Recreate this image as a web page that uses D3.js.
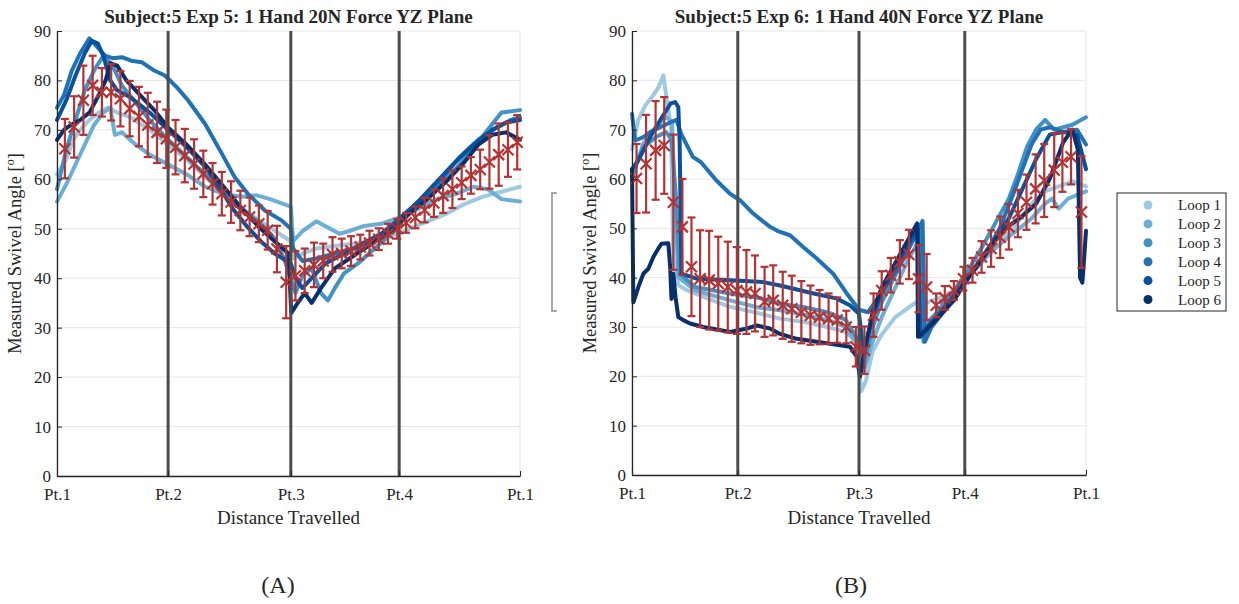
<!DOCTYPE html>
<html>
<head>
<meta charset="utf-8">
<script src="https://cdn.jsdelivr.net/npm/d3@7"></script>
<style>
body { margin: 0; background: #fff; }
text { font-family: "Liberation Serif", "Times New Roman", serif; fill: #262626; }
</style>
</head>
<body>
<div id="chart"></div>
<script>
// ---- data (x = % of distance travelled, y = swivel angle in degrees) ----
var loopNames = ["Loop 1", "Loop 2", "Loop 3", "Loop 4", "Loop 5", "Loop 6"];
var yTicks = [0, 10, 20, 30, 40, 50, 60, 70, 80, 90];
var xTickLabels = ["Pt.1", "Pt.2", "Pt.3", "Pt.4", "Pt.1"];
var aTickPos = [0, 24, 50.5, 73.9, 100];
var bTickPos = [0, 23.3, 50, 73.3, 100];

// panel A: 20N
var a1 = [[0,61],[2,64],[3.5,68],[5,70],[7,72],[9,73.5],[11,74.5],[13,73.5],[16,72.5],[20,70],[24,67],[28,64],[32,60.5],[36,57],[40,54],[44,51.5],[48,49],[50.5,47.5],[51,44],[53,45],[56,46],[60,46.5],[64,47],[68,47.5],[72,48.5],[76,50],[80,51.5],[84,53],[88,55],[92,56.5],[96,57.5],[100,58.5]];
var a2 = [[0,55.5],[2,59],[4,63],[6,67],[8,71],[10,73.5],[11.5,74.5],[12.5,69],[14,69.5],[17,67],[20,65],[24,63],[28,61],[32,58.5],[36,57],[40,56.5],[43,56.8],[46,56],[49,55],[50.5,54.5],[51,47.5],[53,49.5],[56,51.5],[58,50.5],[61,49],[63,49.5],[66,50.5],[70,51],[74,52.3],[78,54],[82,56],[86,57],[90,58.5],[93,58],[96,56],[100,55.5]];
var a3 = [[0,58],[2,66],[4,72],[6,78],[8,82],[10,85],[12,83],[14,79],[17,75.5],[20,72],[24,68],[28,64.5],[32,61],[36,57.5],[40,54],[44,51],[47,48],[49,44],[50.5,40],[51.5,37],[53,40.5],[55,42],[57,37],[58.5,35.5],[60,38],[62,41],[65,43],[68,45.5],[71,48],[74,51],[78,55],[82,58.5],[86,62],[90,66.5],[93,70],[96,73.5],[100,74]];
var a4 = [[0,74.5],[1.5,77],[3.2,82],[5,85.5],[7,88.5],[8.5,87],[10.4,85],[12,84.5],[14,84.7],[16,84],[18.3,83.7],[21,82],[23.3,81],[26,78.5],[28.3,76],[32,71.2],[35.6,65.2],[38.4,60.4],[41.3,57],[44.9,53.7],[48.5,51.7],[50.5,50],[51,46],[53,43.5],[56,44],[60,45],[64,46],[68,47.5],[72,50],[75,53],[79,56],[83,60],[87,64.5],[91,68],[95,70.5],[98,72],[100,72.5]];
var a5 = [[0,72],[2,76],[4,81],[6,85.5],[7.5,88],[8.8,87.5],[10,85],[11.5,80],[13,78],[16,76.5],[20,73.5],[24,70],[28,66.5],[32,62.5],[35,58.5],[38,54],[41,50.5],[44,47.5],[47,45],[50.5,43],[51.5,40],[53,38],[55,40],[58,43],[62,45],[66,47],[70,49],[74,52],[78,55.5],[82,59.5],[86,63.5],[90,67],[94,70],[97,71.5],[100,72]];
var a6 = [[0,68],[1.5,70],[3,71],[5,72],[7,73.5],[9,77],[10.5,80],[11.5,83.5],[13,83],[15,80],[18,77],[21,74],[24,70.5],[28,67],[32,63],[36,58.5],[40,54],[44,50],[47,47.5],[50,45],[50.6,33],[52,35],[53.5,37],[55,35],[57,38],[60,42],[64,44.5],[68,47],[72,49.5],[76,53],[80,56],[84,59.5],[88,63.5],[91,67],[94,69],[97,69.5],[100,68]];
var aMeanX = [1.7,3.7,5.7,7.7,9.7,11.7,13.7,15.7,17.7,19.6,21.6,23.6,25.6,27.6,29.6,31.6,33.6,35.6,37.6,39.6,41.6,43.6,45.5,47.5,49.5,51.5,53.5,55.5,57.5,59.5,61.5,63.5,65.5,67.5,69.5,71.5,73.5,75.4,77.4,79.4,81.4,83.4,85.4,87.4,89.4,91.4,93.4,95.4,97.4,99.4];
var aMean = [66.2,70.6,76,79,77.6,77.6,76.3,74.3,72.7,71,69.5,68.2,66.5,64.8,63.1,61.1,59.1,57.1,55.4,53.7,52.4,51,49.7,45.9,39.2,40.5,41.5,42.7,43.5,44.8,45,45.5,46.3,47.1,47.9,49,50,51.2,52.3,53.8,55.2,56.7,58,59.3,60.8,62,63.5,65,66,67.5];
var aErr = [6,6.2,7,6,4.9,5.7,5.6,5.6,6,6.5,6.2,5.9,5.5,5.4,5,4.7,4.2,4.4,4.2,4,3.9,3.7,3.9,4.7,7.3,5,4.5,4.5,3.5,3.5,3,3,2.5,2.5,2.2,2,2,2,2.2,2.5,2.8,3.5,3.8,3.3,3.7,4,5.4,6.3,5.5,5.5];

// panel B: 40N
var b1 = [[0,66],[1.4,72],[3,75],[4.7,77],[5.8,78.5],[6.9,81],[7.6,76.5],[8.6,70.5],[9.1,44],[10.2,38.5],[12,37.5],[15.7,36.1],[21.6,34.1],[27,33],[32.6,31.7],[38,31],[43,30],[47,29],[49.5,27],[50.5,17],[51.5,19],[53,25],[55,28.5],[58,32],[61,34],[63.5,35.5],[65,35],[68,36],[71,37.5],[74,40],[77,43],[80,46],[84,50],[88,55],[91,57.5],[94,58.5],[97,59.5],[100,58.5]];
var b2 = [[0,60],[2.5,67.2],[5.3,70.5],[7.5,72.6],[8.8,71.5],[9.5,55],[10.2,40.1],[13.9,37.4],[21.6,35.4],[28,33.9],[32.6,33.4],[38,32.5],[43,31.5],[47,30],[50,26],[51,21],[53,27],[55,32],[58,38],[61,44],[63,47],[63.8,30],[65,31],[68,33.5],[71,37],[74,40.5],[77,43.5],[80,46],[84,49],[88,52],[91,55],[92.5,56],[94,54],[96,56],[100,57.5]];
var b3 = [[0,61],[2.5,66.5],[5.3,68.5],[7.5,69.5],[8.7,68],[9.8,55],[10.5,40.8],[13.9,38.1],[21.6,36.8],[28.5,35.8],[32.6,34.7],[38,34],[43,33],[47,31.5],[50,27],[51,22],[53,30],[55,35],[58,40.5],[61,46],[63.5,50],[64.2,27],[65.5,31],[68,34],[71,37.5],[74,41.5],[77,46],[80,51],[83,56],[85,61],[87,66.5],[89,70],[91,72],[93,70],[95,70.5],[97,71],[100,72.5]];
var b4 = [[0,73.2],[0.7,67.8],[2.5,68.5],[4,69.5],[6.2,70.5],[8.5,71.5],[9.8,72],[10.8,69.2],[13.4,64.5],[15.2,63.4],[18.6,59.7],[21.6,57],[23.8,55.7],[26.7,53],[30.4,50.3],[32,49.5],[34.8,48.6],[37.7,46.2],[40.7,43.9],[44.3,40.8],[47.3,36.8],[50,33.5],[52,33],[55,37],[58,41],[61,46],[64,51.5],[64.5,27],[66,30],[69,33.5],[72,37],[75,41],[78,45],[81,50],[84,57],[86,62],[88,67],[90,70],[92,70.5],[95,69.5],[98,70],[100,67]];
var b5 = [[0,62],[1.4,63.8],[4,68.5],[6.2,71.9],[8.5,75.3],[9.5,75.6],[10.2,74.6],[10.5,67.2],[10.9,40.8],[14.2,39.8],[21.6,39.5],[28.9,39.1],[32.6,38.4],[40,36.8],[45,35.8],[48,34.4],[50,32.7],[51,25],[53,32],[55,37],[58,42],[61,47],[63,50],[63.5,28],[65,30],[68,33],[71,36.5],[74,40],[77,44],[80,48],[83,52],[86,58],[89,64],[92,69],[95,69.5],[98,69],[100,62]];
var b6 = [[0,62],[0.3,35],[1.4,38.1],[2.5,40.8],[3.6,41.8],[4.7,44.2],[5.8,45.9],[6.5,46.9],[8,47],[8.4,42.2],[8.7,35.7],[9.1,40.8],[9.6,36],[10.2,32],[11.3,31.4],[12.8,30.7],[15.7,30],[21.6,29],[25.3,29.7],[27.5,30.3],[30.4,29.7],[32.6,28.6],[36.3,27.6],[43.6,26.6],[48,26],[49.5,24],[50.2,19.9],[51,24],[53,33],[55,38],[58,43],[61,48],[62.8,51],[63,28],[65,29.5],[68,32.5],[71,35.5],[74,40],[77,43.5],[80,47.5],[83,50.5],[86,52.5],[89,55],[92,60],[95,67.5],[97,70],[98.2,66],[98.7,40],[99.2,39],[100,49.5]];
var bMeanX = [1.0,3.1,5.2,7.1,9.1,11.1,13.1,15.0,17.0,19.0,21.1,23.1,25.2,27.1,29.2,31.1,33.2,35.2,37.3,39.3,41.3,43.3,45.2,47.2,49.3,51.2,53.2,55.0,57.0,59.0,61.0,63.1,64.9,67.0,68.9,70.9,73.0,75.0,77.0,79.1,81.1,83.0,85.0,86.9,88.9,90.8,93.0,94.8,96.7,99.0];
var bMean = [60.1,63.1,65.8,66.8,55.3,50.3,42.2,39.8,39.5,38.8,38.1,37.4,37.1,36.8,35.1,35.4,34.4,33.7,33,32.4,32,31.7,31.4,30,26,25.3,32.4,37.4,40.5,43.2,44.7,39.8,38.1,34.4,35.9,37.4,39.8,41.5,44.2,45.9,48.2,50.3,53,55.3,58,59.7,61.8,63.4,64.5,53.3];
var bErr = [7,9.9,10,9.8,13.7,9.7,10,9.8,10,9.5,9.2,8.8,8.5,7.7,7.1,7.1,6.8,6.7,6.3,6,5.5,5.1,4.6,3.3,4,4.8,4.4,3.9,3.5,4.4,5,6.8,6.7,2.4,2.4,1.9,2.4,2.5,3.2,3.7,4.2,4.6,4.8,5.6,7,7.4,7.5,6,5.6,11.3];

// ---- styles ----
var loopColors = ["#9ecae1", "#6baed6", "#4292c6", "#2171b5", "#08519c", "#08306b"];
var errColor = "#b33333";
var axisColor = "#262626";

var svg = d3.select("#chart").append("svg")
    .attr("width", 1239)
    .attr("height", 604);
svg.append("rect").attr("width", 1239).attr("height", 604).attr("fill", "#fff");

function drawPanel(p) {
    var g = svg.append("g");
    var x = d3.scaleLinear().domain([0, 100]).range([p.left, p.right]);
    var y = d3.scaleLinear().domain([0, 90]).range([p.bottom, p.top]);

    // grid
    g.selectAll(".hgrid").data(yTicks).enter().append("line")
        .attr("x1", p.left).attr("x2", p.right)
        .attr("y1", function (d) { return y(d); })
        .attr("y2", function (d) { return y(d); })
        .attr("stroke", "#e6e6e6").attr("stroke-width", 1);
    g.selectAll(".vgrid").data(p.ticks).enter().append("line")
        .attr("x1", function (d) { return x(d); })
        .attr("x2", function (d) { return x(d); })
        .attr("y1", p.top).attr("y2", p.bottom)
        .attr("stroke", "#e6e6e6").attr("stroke-width", 1);

    // loops
    var line = d3.line()
        .x(function (d) { return x(d[0]); })
        .y(function (d) { return y(d[1]); });
    p.loops.forEach(function (data, i) {
        g.append("path")
            .datum(data)
            .attr("d", line)
            .attr("fill", "none")
            .attr("stroke", loopColors[i])
            .attr("stroke-width", 4)
            .attr("stroke-linejoin", "round")
            .attr("stroke-linecap", "round");
    });

    // waypoint lines
    g.selectAll(".pt").data(p.ticks.slice(1, 4)).enter().append("line")
        .attr("x1", function (d) { return x(d); })
        .attr("x2", function (d) { return x(d); })
        .attr("y1", p.top).attr("y2", p.bottom)
        .attr("stroke", "#4d4d4d").attr("stroke-width", 3);

    // mean +/- error
    var eb = g.append("g").attr("stroke", errColor).attr("stroke-width", 2.2).attr("fill", "none");
    p.meanX.forEach(function (mx, i) {
        var cx = x(mx), m = p.mean[i], e = p.err[i];
        var yt = y(m + e), yb = y(m - e), cy = y(m);
        eb.append("line").attr("x1", cx).attr("x2", cx).attr("y1", yt).attr("y2", yb);
        eb.append("line").attr("x1", cx - 4).attr("x2", cx + 4).attr("y1", yt).attr("y2", yt);
        eb.append("line").attr("x1", cx - 4).attr("x2", cx + 4).attr("y1", yb).attr("y2", yb);
        eb.append("path")
            .attr("d", "M" + (cx - 5.5) + "," + (cy - 5.5) + "L" + (cx + 5.5) + "," + (cy + 5.5) +
                "M" + (cx - 5.5) + "," + (cy + 5.5) + "L" + (cx + 5.5) + "," + (cy - 5.5));
    });

    // axes
    var yAxis = d3.axisLeft(y).tickValues(yTicks).tickSize(-5).tickSizeOuter(0).tickPadding(6);
    var xAxis = d3.axisBottom(x).tickValues(p.ticks).tickSize(-5).tickSizeOuter(0).tickPadding(12)
        .tickFormat(function (d, i) { return xTickLabels[i]; });
    var ya = g.append("g").attr("transform", "translate(" + p.left + ",0)").call(yAxis);
    var xa = g.append("g").attr("transform", "translate(0," + p.bottom + ")").call(xAxis);
    [ya, xa].forEach(function (a) {
        a.select(".domain").attr("stroke", axisColor).attr("stroke-width", 1.3);
        a.selectAll(".tick line").attr("stroke", axisColor);
        a.selectAll(".tick text")
            .attr("fill", axisColor)
            .style("font-family", "'Liberation Serif', 'Times New Roman', serif")
            .style("font-size", "17px");
    });

    // title and labels
    var cx = (p.left + p.right) / 2;
    g.append("text")
        .attr("x", cx).attr("y", 23)
        .attr("text-anchor", "middle")
        .style("font-weight", "bold").style("font-size", "19px")
        .attr("fill", "#000")
        .text(p.title);
    g.append("text")
        .attr("x", cx).attr("y", 524)
        .attr("text-anchor", "middle")
        .style("font-size", "19px")
        .text("Distance Travelled");
    var yl = g.append("text")
        .attr("transform", "translate(" + (p.left - 36) + "," + ((p.top + p.bottom) / 2) + ") rotate(-90)")
        .attr("text-anchor", "middle")
        .style("font-size", "18.5px");
    yl.append("tspan").text("Measured Swivel Angle [");
    yl.append("tspan").attr("dy", -7).style("font-size", "12px").text("o");
    yl.append("tspan").attr("dy", 7).text("]");
    g.append("text")
        .attr("x", p.subX).attr("y", 593)
        .attr("text-anchor", "middle")
        .style("font-size", "24px")
        .text(p.sub);
}

drawPanel({
    left: 57, right: 520, top: 31, bottom: 476,
    ticks: aTickPos,
    loops: [a1, a2, a3, a4, a5, a6],
    meanX: aMeanX, mean: aMean, err: aErr,
    title: "Subject:5 Exp 5: 1 Hand 20N Force YZ Plane",
    sub: "(A)", subX: 278
});
drawPanel({
    left: 632, right: 1086, top: 31, bottom: 475,
    ticks: bTickPos,
    loops: [b1, b2, b3, b4, b5, b6],
    meanX: bMeanX, mean: bMean, err: bErr,
    title: "Subject:5 Exp 6: 1 Hand 40N Force YZ Plane",
    sub: "(B)", subX: 851
});

// stray legend edge between panels
svg.append("path")
    .attr("d", "M557,193H552V311H557")
    .attr("fill", "none").attr("stroke", "#8c8c8c").attr("stroke-width", 1.5);

// legend
var lg = svg.append("g");
lg.append("rect")
    .attr("x", 1117).attr("y", 193).attr("width", 109).attr("height", 118)
    .attr("fill", "#fff").attr("stroke", "#262626").attr("stroke-width", 1);
loopNames.forEach(function (name, i) {
    var ly = 205 + i * 18.9;
    lg.append("circle").attr("cx", 1148).attr("cy", ly).attr("r", 4.5).attr("fill", loopColors[i]);
    lg.append("text").attr("x", 1178).attr("y", ly + 5).style("font-size", "15px").text(name);
});
</script>
</body>
</html>
